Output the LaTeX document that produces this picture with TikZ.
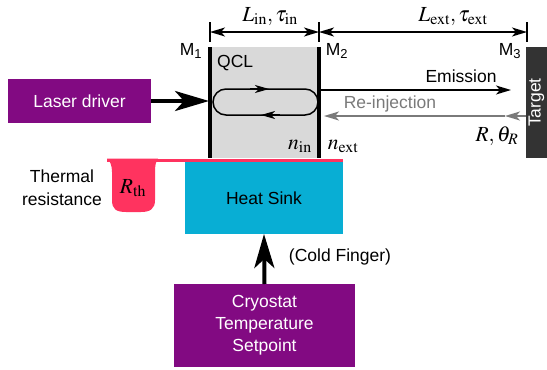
\documentclass[tikz,border=0pt]{standalone}
\usepackage{mathptmx}
\usepackage[no-math]{fontspec}
\setmainfont{Liberation Sans}
\usetikzlibrary{arrows.meta}
\definecolor{purp}{HTML}{820A82}
\definecolor{sinkc}{HTML}{08AED4}
\definecolor{pinkc}{HTML}{FF335F}
\definecolor{qclg}{HTML}{D9D9D9}
\definecolor{tgtc}{HTML}{333333}
\definecolor{reinj}{HTML}{7A7A7A}
\tikzset{
  box/.style={inner sep=0pt, outer sep=0pt},
  bigarrow/.style={line width=4pt, -{Stealth[length=34pt,width=20pt,inset=9pt]}},
  thinarrow/.style={line width=1.5pt, -{Stealth[length=15pt,width=9pt,inset=4pt]}},
  dimarrow/.style={line width=1.5pt, {Stealth[length=15pt,width=9pt,inset=4pt]}-{Stealth[length=15pt,width=9pt,inset=4pt]}},
  tick/.style={line width=2pt},
  mirror/.style={line width=3.5pt},
  smallhead/.style={line width=1.5pt, -{Stealth[length=14pt,width=8pt,inset=4pt]}},
  mathlbl/.style={inner sep=0pt, anchor=base, font=\fontsize{21.5}{26}\selectfont},
}
\begin{document}
\begin{tikzpicture}[x=1pt,y=-1pt,font=\fontsize{17.5}{22}\selectfont]
\useasboundingbox (0,0) rectangle (547,370);
% QCL region
\node[box, fill=qclg, minimum width=109pt, minimum height=111pt] (qcl) at (264.5,102.5) {};
\draw[mirror] (qcl.north west) -- (qcl.south west);
\draw[mirror] (qcl.north east) -- (qcl.south east);
\node[anchor=west, inner sep=0pt] (qcllabel) at (217,63) {QCL};
% mirror labels
\node[inner sep=0pt] (m1) at (191,51) {M\textsubscript{1}};
\node[inner sep=0pt] (m2) at (337,51) {M\textsubscript{2}};
\node[inner sep=0pt] (m3) at (510,51) {M\textsubscript{3}};
% dimension lines
\coordinate (t1a) at (210,22); \coordinate (t1b) at (210,42);
\coordinate (t2a) at (319,22); \coordinate (t2b) at (319,42);
\coordinate (t3a) at (527,22); \coordinate (t3b) at (527,42);
\draw[tick] (t1a) -- (t1b);
\draw[tick] (t2a) -- (t2b);
\draw[tick] (t3a) -- (t3b);
\coordinate (d1) at (210,32); \coordinate (d2) at (319,32); \coordinate (d3) at (527,32);
\draw[dimarrow] (d1) -- (d2);
\draw[dimarrow] (d2) -- (d3);
\node[mathlbl] (lin) at (270,21) {$L_{\mathrm{in}},\tau_{\mathrm{in}}$};
\node[mathlbl] (lext) at (453,21) {$L_{\mathrm{ext}},\tau_{\mathrm{ext}}$};
% laser driver
\node[box, fill=purp, text=white, minimum width=143pt, minimum height=44pt] (laser) at (79.5,101) {Laser driver};
\coordinate (m1in) at (209,101);
\draw[bigarrow] (laser.east) -- (m1in);
% round trip loop
\draw[line width=1.5pt] (226,89) -- (305,89) arc[start angle=90,end angle=-90,radius=13pt] -- (226,115) arc[start angle=270,end angle=90,radius=13pt] -- cycle;
\coordinate (la) at (250,89); \coordinate (lb) at (269,89);
\coordinate (lc) at (280,115); \coordinate (ld) at (261,115);
\draw[smallhead] (la) -- (lb);
\draw[smallhead] (lc) -- (ld);
% emission
\coordinate (em1) at (320,90); \coordinate (em2) at (511,90);
\draw[thinarrow] (em1) -- (em2);
\node[inner sep=0pt] (emis) at (461,76) {Emission};
% target
\node[box, fill=tgtc, text=white, minimum width=111pt, minimum height=21pt, rotate=90] (target) at (536.5,102.5) {Target};
% re-injection
\coordinate (rs) at (526,116); \coordinate (rm) at (505,116); \coordinate (re) at (324,116);
\draw[thinarrow, draw=reinj, fill=reinj] (rs) -- (rm);
\draw[thinarrow, draw=reinj, fill=reinj] (rm) -- (re);
\node[inner sep=0pt, text=reinj] (reinjl) at (390,104) {Re-injection};
\node[mathlbl] (rtheta) at (497,141) {$R,\theta_R$};
\node[mathlbl] (nin) at (300,149) {$n_{\mathrm{in}}$};
\node[mathlbl] (next) at (343,149) {$n_{\mathrm{ext}}$};
% heat sink
\node[box, fill=sinkc, minimum width=158pt, minimum height=72pt] (hs) at (264,198) {Heat Sink};
\draw[pinkc, line width=3pt] (107,160) -- (343,160);
% thermal resistance blob
\fill[pinkc] (107,158.5) -- (158,158.5) .. controls (156,161) and (155,165) .. (155,172) -- (155,200)
  .. controls (155,209) and (150,212) .. (141,212) -- (126,212)
  .. controls (116,212) and (112,209) .. (112,200) -- (112,172)
  .. controls (112,165) and (110,161) .. (107,158.5) -- cycle;
\node[mathlbl] (rth) at (133,193) {$R_{\mathrm{th}}$};
\node[inner sep=0pt, align=center, font=\fontsize{17.5}{23}\selectfont] (thr) at (62,187.5) {Thermal\\resistance};
% cryostat
\node[box, fill=purp, text=white, align=center, minimum width=181pt, minimum height=83pt] (cryo) at (264.5,325.5) {Cryostat\\Temperature\\Setpoint};
\draw[bigarrow] (cryo.north) -- (hs.south);
\node[inner sep=0pt] (cf) at (340,257) {(Cold Finger)};
\end{tikzpicture}
\end{document}
